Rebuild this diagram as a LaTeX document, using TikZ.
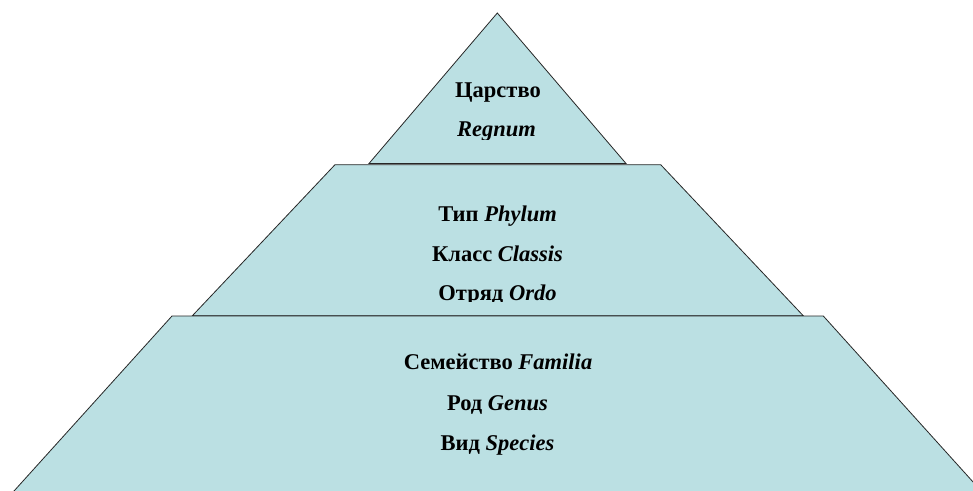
\documentclass[tikz,border=0pt]{standalone}
\usepackage{fontspec}
\setmainfont{Liberation Serif}
\definecolor{layerc}{RGB}{187,224,227}
\begin{document}
\begin{tikzpicture}[x=1pt,y=-1pt,
  layerbox/.style={fill=layerc, draw=black!85, line width=0.8pt, line join=miter},
  lbl/.style={font=\fontsize{22.5}{26}\selectfont\bfseries, anchor=base, inner sep=0pt}]
\useasboundingbox (0,0) rectangle (973,490);
\clip (0,0) rectangle (973,490);
% layers
\draw[layerbox] (497.3,13) -- (626,163.5) -- (369,163.5) -- cycle;
\draw[layerbox] (335,164.7) -- (660.7,164.7) -- (803.3,315.8) -- (192.3,315.8) -- cycle;
\draw[layerbox] (172,316) -- (823.3,316) -- (983,493) -- (12.2,493) -- cycle;
% top texts
\begin{scope}
\clip (369,40) rectangle (626,139);
\node[lbl] (regnumru) at (498,97) {Царство};
\node[lbl] (regnum) at (496.5,136) {\itshape Regnum};
\end{scope}
% middle texts
\begin{scope}
\clip (200,170) rectangle (790,301.5);
\node[lbl] (phylum) at (497.5,221.5) {Тип \itshape Phylum};
\node[lbl] (classis) at (497.5,261) {Класс \itshape Classis};
\node[lbl] (ordo) at (497.5,300.5) {Отряд \itshape Ordo};
\end{scope}
% bottom texts
\node[lbl] (familia) at (498,369.5) {Семейство \itshape Familia};
\node[lbl] (genus) at (497.5,410) {Род \itshape Genus};
\node[lbl] (species) at (497.5,450.5) {Вид \itshape Species};
\end{tikzpicture}
\end{document}
